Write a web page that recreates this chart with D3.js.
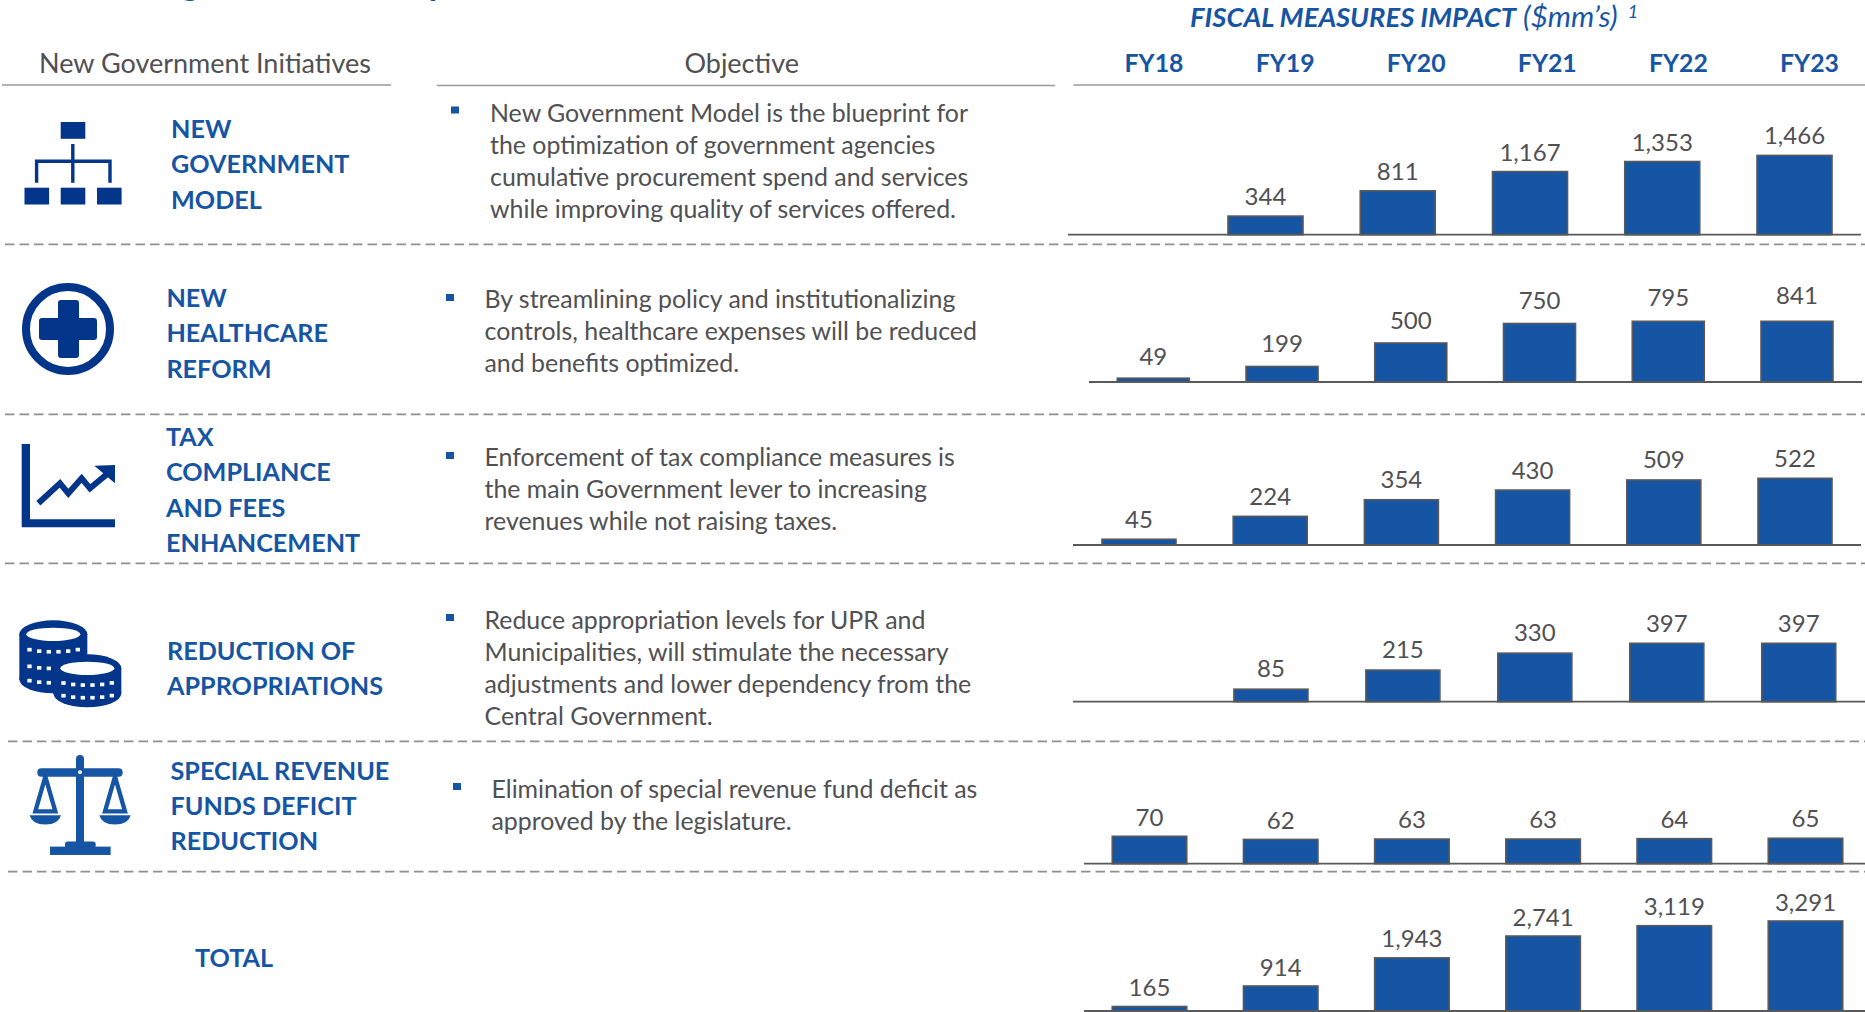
<!DOCTYPE html>
<html>
<head>
<meta charset="utf-8">
<script src="https://d3js.org/d3.v7.min.js"></script>
<style>
html, body { margin: 0; padding: 0; background: #fff; overflow: hidden; }
svg { display: block; }
text { font-family: Lato, "Open Sans", sans-serif; }
</style>
</head>
<body>
<svg id="chart" width="1865" height="1012"></svg>
<script>
(function() {
'use strict';

// values
var years = ['FY18', 'FY19', 'FY20', 'FY21', 'FY22', 'FY23'];
var newGovernmentModel = [null, 344, 811, 1167, 1353, 1466];
var healthcareReform = [49, 199, 500, 750, 795, 841];
var taxCompliance = [45, 224, 354, 430, 509, 522];
var appropriations = [null, 85, 215, 330, 397, 397];
var specialRevenue = [70, 62, 63, 63, 64, 65];
var totals = [165, 914, 1943, 2741, 3119, 3291];

var headerLeft = 'New Government Initiatives';
var headerMiddle = 'Objective';
var names = [
    ['NEW', 'GOVERNMENT', 'MODEL'],
    ['NEW', 'HEALTHCARE', 'REFORM'],
    ['TAX', 'COMPLIANCE', 'AND FEES', 'ENHANCEMENT'],
    ['REDUCTION OF', 'APPROPRIATIONS'],
    ['SPECIAL REVENUE', 'FUNDS DEFICIT', 'REDUCTION'],
    ['TOTAL']
];
var objectives = [
    ['New Government Model is the blueprint for', 'the optimization of government agencies', 'cumulative procurement spend and services', 'while improving quality of services offered.'],
    ['By streamlining policy and institutionalizing', 'controls, healthcare expenses will be reduced', 'and benefits optimized.'],
    ['Enforcement of tax compliance measures is', 'the main Government lever to increasing', 'revenues while not raising taxes.'],
    ['Reduce appropriation levels for UPR and', 'Municipalities, will stimulate the necessary', 'adjustments and lower dependency from the', 'Central Government.'],
    ['Elimination of special revenue fund deficit as', 'approved by the legislature.']
];

var BLUE = '#1655a3';
var NAVY = '#03358a';
var GREY = '#505053';
var RULE = '#8f8f8f';
var AXIS = '#595959';
var BODY_SIZE = 24.9;
var VALUE_SIZE = 24;

var svg = d3.select('#chart');

// layout of the six rows. healthcare bars are cut off at 778 in the original, hence clamp
var panels = [
    {values: newGovernmentModel, c0: 1133.25, c5: 1794.5, w: 75, base: 234.7, h: 79.3, max: 1466, axis0: 1068, axis1: 1861, gap: 11},
    {values: healthcareReform, c0: 1153.3, c5: 1797, w: 72, base: 382, h: 60.7, max: 778, axis0: 1089, axis1: 1862, gap: 14.2, clamp: true, nudge: {FY18: 1.5, FY22: -1, FY23: -3}},
    {values: taxCompliance, c0: 1139, c5: 1795, w: 74, base: 545, h: 66.7, max: 522, axis0: 1073, axis1: 1861, gap: 11.5},
    {values: appropriations, c0: 1139, c5: 1798.75, w: 74, base: 701.7, h: 58.4, max: 397, axis0: 1073, axis1: 1865, gap: 11.8},
    {values: specialRevenue, c0: 1149.5, c5: 1805.5, w: 74.5, base: 863.7, h: 27.4, max: 70, axis0: 1084, axis1: 1865, gap: 10.8},
    {values: totals, c0: 1149.5, c5: 1805.5, w: 74.5, base: 1011, h: 90, max: 3291, axis0: 1084, axis1: 1865, gap: 10.5}
];

var nameBlocks = [
    {x: 171, y: 138, dy: 35.3},
    {x: 166.4, y: 306.7, dy: 35.5},
    {x: 166, y: 446.2, dy: 35.2},
    {x: 167, y: 659.6, dy: 35},
    {x: 170.5, y: 780.2, dy: 35},
    {x: 195, y: 966.5, dy: 35}
];

var objectiveBlocks = [
    {x: 490, y: 121.6, bx: 451, by: 106.5},
    {x: 484.5, y: 308.3, bx: 446, by: 294},
    {x: 484.5, y: 466.3, bx: 446, by: 452},
    {x: 484.5, y: 628.6, bx: 446, by: 614},
    {x: 491.5, y: 797.9, bx: 453, by: 783}
];

// header rules and row separators
var headerRules = [[2, 391, 85], [437, 1055, 85.5], [1073.4, 1865, 85]];
var separators = [[5, 244.3], [5, 414.3], [5, 563.3], [8, 741.3], [8, 871.7]];

svg.selectAll('line.head').data(headerRules).enter().append('line')
    .attr('class', 'head')
    .attr('x1', function(d) { return d[0]; })
    .attr('x2', function(d) { return d[1]; })
    .attr('y1', function(d) { return d[2]; })
    .attr('y2', function(d) { return d[2]; })
    .attr('stroke', '#9a9a9a')
    .attr('stroke-width', 1.6);

svg.selectAll('line.sep').data(separators).enter().append('line')
    .attr('class', 'sep')
    .attr('x1', function(d) { return d[0]; })
    .attr('x2', 1865)
    .attr('y1', function(d) { return d[1]; })
    .attr('y2', function(d) { return d[1]; })
    .attr('stroke', RULE)
    .attr('stroke-width', 1.8)
    .attr('stroke-dasharray', '9.5 5');

// what is left of the slide title, cut by the top edge
[[190, 'g'], [436, 'y']].forEach(function(d) {
    svg.append('text')
        .attr('x', d[0]).attr('y', -5.5)
        .attr('text-anchor', 'middle')
        .attr('font-size', 36).attr('font-weight', 700)
        .attr('fill', BLUE)
        .text(d[1]);
});

// headers
svg.append('text').attr('x', 39).attr('y', 72.5)
    .attr('font-size', 27).attr('fill', GREY).text(headerLeft);
svg.append('text').attr('x', 741.7).attr('y', 72.5).attr('text-anchor', 'middle')
    .attr('font-size', 27).attr('fill', GREY).text(headerMiddle);

var sub = svg.append('text').attr('x', 1190).attr('y', 27.2)
    .attr('font-size', 27.4).attr('font-style', 'italic').attr('fill', BLUE);
sub.append('tspan').attr('font-weight', 700).text('FISCAL MEASURES IMPACT');
sub.append('tspan').attr('dx', 7).attr('font-size', 29.5).text('($mm\u2019s)');
sub.append('tspan').attr('dx', 10).attr('dy', -9).attr('font-size', 18).text('1');

// FY header is a plain top axis without line or ticks
var headerX = d3.scalePoint().domain(years).range([1153.5, 1809]);
var headerAxis = svg.append('g')
    .attr('transform', 'translate(0,72.2)')
    .call(d3.axisTop(headerX).tickSize(0).tickPadding(0));
headerAxis.select('.domain').remove();
headerAxis.selectAll('text')
    .attr('dy', 0).attr('y', 0)
    .attr('font-family', 'Lato').attr('font-size', 24.8).attr('font-weight', 700)
    .attr('fill', BLUE);

// left column names
nameBlocks.forEach(function(b, i) {
    svg.append('g').selectAll('text').data(names[i]).enter().append('text')
        .attr('x', b.x)
        .attr('y', function(d, j) { return b.y + j * b.dy; })
        .attr('font-size', 25.2).attr('font-weight', 700)
        .attr('fill', BLUE)
        .text(function(d) { return d; });
});

// objectives
objectiveBlocks.forEach(function(b, i) {
    svg.append('rect').attr('x', b.bx).attr('y', b.by)
        .attr('width', 8).attr('height', 7).attr('fill', BLUE);
    svg.append('g').selectAll('text').data(objectives[i]).enter().append('text')
        .attr('x', b.x)
        .attr('y', function(d, j) { return b.y + j * 32; })
        .attr('font-size', BODY_SIZE)
        .attr('fill', GREY)
        .text(function(d) { return d; });
});

// bar rows
var fmt = d3.format(',');
panels.forEach(function(p) {
    var x = d3.scalePoint().domain(years).range([p.c0, p.c5]);
    var y = d3.scaleLinear().domain([0, p.max]).range([p.base, p.base - p.h]).clamp(!!p.clamp);
    var rows = years.map(function(yr, i) {
        return {year: yr, value: p.values[i]};
    }).filter(function(d) {
        return d.value !== null;
    });
    var g = svg.append('g');

    g.selectAll('rect').data(rows).enter().append('rect')
        .attr('x', function(d) { return x(d.year) - p.w / 2; })
        .attr('y', function(d) { return y(d.value); })
        .attr('width', p.w)
        .attr('height', function(d) { return p.base - y(d.value); })
        .attr('fill', BLUE)
        .attr('stroke', AXIS)
        .attr('stroke-width', 1.6);

    g.append('line')
        .attr('x1', p.axis0).attr('x2', p.axis1)
        .attr('y1', p.base).attr('y2', p.base)
        .attr('stroke', AXIS).attr('stroke-width', 1.8);

    g.selectAll('text').data(rows).enter().append('text')
        .attr('x', function(d) { return x(d.year); })
        .attr('y', function(d) {
            return y(d.value) - p.gap + (p.nudge && p.nudge[d.year] || 0);
        })
        .attr('text-anchor', 'middle')
        .attr('font-size', VALUE_SIZE)
        .attr('fill', GREY)
        .text(function(d) { return fmt(d.value); });
});

// icons, roughly traced
var orgIcon = svg.append('g').attr('fill', NAVY);
[[60.7, 122], [24.5, 187.7], [60.7, 187.7], [97, 187.7]].forEach(function(d) {
    orgIcon.append('rect').attr('x', d[0]).attr('y', d[1]).attr('width', 24.6).attr('height', 16.8);
});
svg.append('path')
    .attr('d', 'M72.8 144V182.7M36.6 182.7V161.3H110V182.7')
    .attr('fill', 'none').attr('stroke', NAVY).attr('stroke-width', 3.4);

svg.append('ellipse').attr('cx', 68).attr('cy', 329).attr('rx', 42).attr('ry', 42)
    .attr('fill', 'none').attr('stroke', NAVY).attr('stroke-width', 8);
svg.append('path')
    .attr('d', 'M61 303H76V321H94V337H76V355H61V337H42V321H61Z')
    .attr('fill', NAVY).attr('stroke', NAVY).attr('stroke-width', 6).attr('stroke-linejoin', 'round');

// the lower icons were traced on a 3x crop with its origin at y=400
var lower = svg.append('g').attr('transform', 'translate(0,400) scale(0.3333)');

lower.append('path')
    .attr('d', 'M65 132H90V358H345V382H65Z')
    .attr('fill', NAVY);
lower.append('path')
    .attr('d', 'M115 310L180 250L205 280L245 235L270 265L330 215')
    .attr('fill', 'none').attr('stroke', NAVY).attr('stroke-width', 18);
lower.append('path').attr('d', 'M283 197L345 195V250Z').attr('fill', NAVY);

var coinStack = function(cx, topY, botY, rowYs) {
    lower.append('ellipse').attr('cx', cx).attr('cy', botY).attr('rx', 102).attr('ry', 42).attr('fill', NAVY);
    lower.append('rect').attr('x', cx - 102).attr('y', topY).attr('width', 204).attr('height', botY - topY).attr('fill', NAVY);
    lower.append('ellipse').attr('cx', cx).attr('cy', topY).attr('rx', 102).attr('ry', 42).attr('fill', NAVY);
    lower.append('ellipse').attr('cx', cx).attr('cy', topY).attr('rx', 81).attr('ry', 20).attr('fill', '#fff');
    // rim notches follow the curve of each coin
    rowYs.forEach(function(ry) {
        d3.range(-72, 80, 29).forEach(function(dx) {
            lower.append('rect')
                .attr('x', cx + dx - 6)
                .attr('y', ry - 5 - 16 * (1 - Math.sqrt(1 - dx * dx / 8100)))
                .attr('width', 13).attr('height', 11)
                .attr('fill', '#fff');
        });
    });
};
coinStack(160, 703, 838, [755, 805, 848]);
coinStack(262, 805, 880, [855, 893]);

var scales = lower.append('g').attr('fill', BLUE);
scales.append('rect').attr('x', 228).attr('y', 1065).attr('width', 24).attr('height', 275).attr('rx', 12);
scales.append('rect').attr('x', 112).attr('y', 1105).attr('width', 256).attr('height', 25).attr('rx', 12);
lower.append('circle').attr('cx', 240).attr('cy', 1117).attr('r', 6).attr('fill', '#fff');
scales.append('rect').attr('x', 195).attr('y', 1325).attr('width', 92).attr('height', 20).attr('rx', 8);
scales.append('rect').attr('x', 150).attr('y', 1340).attr('width', 182).attr('height', 25);
[136, 345].forEach(function(cx) {
    lower.append('path')
        .attr('d', 'M' + cx + ' 1130L' + (cx - 30) + ' 1234H' + (cx + 30) + 'Z')
        .attr('fill', 'none').attr('stroke', BLUE).attr('stroke-width', 13);
    scales.append('path')
        .attr('d', 'M' + (cx - 47) + ' 1246H' + (cx + 47) + 'Q' + (cx + 40) + ' 1274 ' + cx + ' 1274Q' + (cx - 40) + ' 1274 ' + (cx - 47) + ' 1246Z');
});

})();
</script>
</body>
</html>
